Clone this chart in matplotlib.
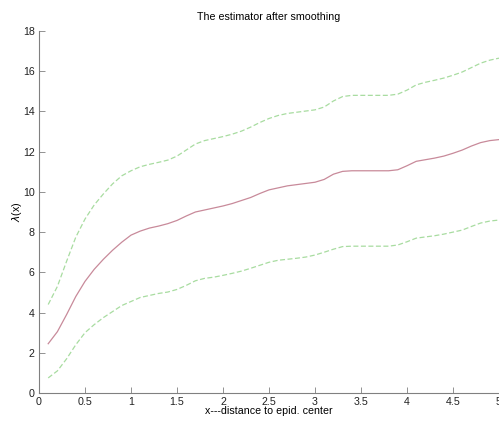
import numpy as np
import matplotlib.pyplot as plt

plt.rcParams['font.family'] = ['Liberation Sans', 'DejaVu Sans']
fntSize = 7.7

## data
x = [0.1, 0.2, 0.3, 0.4, 0.5, 0.6, 0.7, 0.8, 0.9, 1.0,
     1.1, 1.2, 1.3, 1.4, 1.5, 1.6, 1.7, 1.8, 1.9, 2.0,
     2.1, 2.2, 2.3, 2.4, 2.5, 2.6, 2.7, 2.8, 2.9, 3.0,
     3.1, 3.2, 3.3, 3.4, 3.5, 3.6, 3.7, 3.8, 3.9, 4.0,
     4.1, 4.2, 4.3, 4.4, 4.5, 4.6, 4.7, 4.8, 4.9, 5.0]

# smoothed estimator
estimate = [2.45, 3.05, 3.9, 4.8, 5.55, 6.15, 6.65, 7.1, 7.5, 7.85,
            8.05, 8.2, 8.3, 8.42, 8.58, 8.8, 9.0, 9.1, 9.2, 9.3,
            9.42, 9.57, 9.72, 9.92, 10.1, 10.2, 10.3, 10.36, 10.42, 10.48,
            10.62, 10.88, 11.02, 11.05, 11.05, 11.05, 11.05, 11.05, 11.1, 11.3,
            11.52, 11.6, 11.68, 11.78, 11.92, 12.08, 12.28, 12.45, 12.55, 12.6]

# upper band
upper = [4.4, 5.3, 6.55, 7.75, 8.65, 9.35, 9.9, 10.4, 10.8, 11.05,
         11.25, 11.37, 11.47, 11.58, 11.78, 12.08, 12.38, 12.55, 12.65, 12.75,
         12.87, 13.02, 13.22, 13.45, 13.65, 13.8, 13.9, 13.96, 14.02, 14.08,
         14.22, 14.52, 14.74, 14.8, 14.8, 14.8, 14.8, 14.8, 14.86, 15.06,
         15.32, 15.45, 15.55, 15.66, 15.8, 15.96, 16.18, 16.4, 16.55, 16.65]

# lower band
lower = [0.75, 1.1, 1.7, 2.4, 3.0, 3.4, 3.75, 4.05, 4.35, 4.55,
         4.75, 4.85, 4.95, 5.02, 5.15, 5.35, 5.58, 5.7, 5.76, 5.85,
         5.95, 6.06, 6.2, 6.35, 6.5, 6.6, 6.65, 6.7, 6.76, 6.86,
         7.0, 7.15, 7.28, 7.3, 7.3, 7.3, 7.3, 7.3, 7.36, 7.52,
         7.7, 7.76, 7.82, 7.9, 8.0, 8.1, 8.28, 8.45, 8.55, 8.6]

xTicks = [0, 0.5, 1, 1.5, 2, 2.5, 3, 3.5, 4, 4.5, 5]
xTickLabels = ['0', '0.5', '1', '1.5', '2', '2.5', '3', '3.5', '4', '4.5', '5']
yTicks = [0, 2, 4, 6, 8, 10, 12, 14, 16, 18]

## plot
fig = plt.figure(figsize=(4.99, 4.21), dpi=100)
ax = fig.add_axes([39/499, 1-393/421, 1-39/499, (393-31)/421])

ax.plot(x, upper, color='#a8dca0', linestyle='--', linewidth=0.9, dashes=(4, 2))
ax.plot(x, estimate, color='#c88a9a', linewidth=0.9)
ax.plot(x, lower, color='#a8dca0', linestyle='--', linewidth=0.9, dashes=(4, 2))

ax.set_xlim(0, 5)
ax.set_ylim(0, 18)
ax.set_xticks(xTicks, xTickLabels)
ax.set_yticks(yTicks)
ax.tick_params(direction='in', length=4, width=0.6, color='#808080',
               labelsize=fntSize, labelcolor='#222222', pad=3)

for side in ['top', 'right']:
    ax.spines[side].set_visible(False)
for side in ['left', 'bottom']:
    ax.spines[side].set_color('#808080')
    ax.spines[side].set_linewidth(0.8)

ax.set_title('The estimator after smoothing', fontsize=fntSize, pad=8)
ax.set_xlabel('x---distance to epid. center', fontsize=fntSize, labelpad=-1)
ax.set_ylabel(r'$\lambda$(x)', fontsize=fntSize, labelpad=-1)

fig.savefig('out.png', dpi=100)
plt.close(fig)
